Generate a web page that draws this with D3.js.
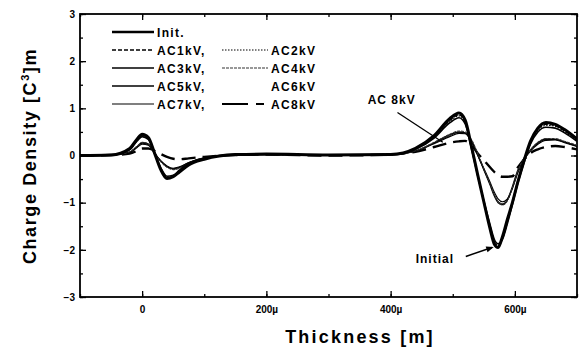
<!DOCTYPE html>
<html>
<head>
<meta charset="utf-8">
<script src="https://cdn.jsdelivr.net/npm/d3@7"></script>
<style>
  body { margin: 0; background: #fff; }
  text { font-family: "Liberation Sans", Arial, sans-serif; font-weight: bold; fill: #000; }
</style>
</head>
<body>
<script>
// thickness positions (µm) shared by every profile
var xs = [-100,-50,-20,-8,0,10,20,30,40,50,60,75,100,150,200,300,400,440,470,495,510,520,530,540,550,560,567,573,580,588,596,605,615,625,637,650,665,680,700];

var init = [0,0.01,0.15,0.35,0.45,0.38,0.05,-0.3,-0.49,-0.45,-0.35,-0.2,-0.08,0.02,0.03,0.01,0.02,0.15,0.42,0.78,0.9,0.75,0.2,-0.4,-0.98,-1.55,-1.88,-1.95,-1.72,-1.35,-1.0,-0.55,-0.1,0.3,0.58,0.7,0.66,0.55,0.35];
var ac1 = [0,0.01,0.14,0.33,0.43,0.36,0.05,-0.28,-0.47,-0.44,-0.33,-0.19,-0.07,0.02,0.03,0.01,0.02,0.14,0.4,0.74,0.86,0.72,0.18,-0.4,-0.96,-1.52,-1.84,-1.92,-1.74,-1.36,-0.98,-0.52,-0.1,0.28,0.55,0.66,0.63,0.52,0.33];
var ac2 = [0,0.01,0.13,0.32,0.42,0.35,0.05,-0.27,-0.46,-0.43,-0.32,-0.18,-0.07,0.02,0.02,0.01,0.02,0.14,0.39,0.72,0.84,0.7,0.17,-0.42,-0.98,-1.5,-1.82,-1.9,-1.76,-1.4,-1.0,-0.54,-0.12,0.26,0.53,0.64,0.62,0.5,0.32];
var ac3 = [0,0.01,0.12,0.31,0.4,0.34,0.05,-0.26,-0.44,-0.42,-0.31,-0.17,-0.06,0.02,0.02,0.01,0.02,0.13,0.37,0.69,0.8,0.67,0.15,-0.42,-0.96,-1.46,-1.78,-1.87,-1.78,-1.44,-1.04,-0.58,-0.14,0.24,0.5,0.6,0.58,0.48,0.3];
var ac4 = [0,0.01,0.08,0.2,0.28,0.25,0.06,-0.13,-0.25,-0.3,-0.27,-0.17,-0.06,0.01,0.02,0.01,0.02,0.1,0.28,0.45,0.52,0.5,0.34,0.05,-0.28,-0.6,-0.84,-0.98,-1.05,-0.96,-0.68,-0.32,-0.06,0.12,0.28,0.36,0.36,0.3,0.22];
var ac5 = [0,0.01,0.07,0.19,0.27,0.24,0.05,-0.12,-0.24,-0.29,-0.26,-0.16,-0.06,0.01,0.02,0.01,0.02,0.1,0.27,0.44,0.5,0.48,0.32,0.02,-0.3,-0.62,-0.86,-1.0,-1.04,-0.94,-0.66,-0.3,-0.05,0.12,0.27,0.35,0.34,0.29,0.2];
var ac6 = [0,0.01,0.07,0.18,0.26,0.23,0.05,-0.12,-0.23,-0.28,-0.25,-0.15,-0.05,0.01,0.02,0.01,0.02,0.09,0.26,0.42,0.49,0.47,0.3,0.0,-0.3,-0.6,-0.83,-0.97,-1.02,-0.95,-0.7,-0.34,-0.07,0.1,0.26,0.34,0.34,0.28,0.2];
var ac7 = [0,0.01,0.06,0.17,0.24,0.22,0.05,-0.11,-0.22,-0.27,-0.24,-0.15,-0.05,0.01,0.02,0.01,0.02,0.09,0.25,0.4,0.47,0.46,0.3,0.02,-0.27,-0.56,-0.78,-0.92,-0.98,-0.92,-0.7,-0.36,-0.09,0.09,0.24,0.32,0.33,0.27,0.19];
var ac8 = [0,0.01,0.04,0.1,0.15,0.15,0.1,0.03,-0.03,-0.07,-0.08,-0.06,-0.03,0.01,0.02,0.0,0.02,0.08,0.18,0.27,0.3,0.31,0.22,0.05,-0.1,-0.25,-0.35,-0.42,-0.45,-0.45,-0.44,-0.25,-0.08,0.05,0.13,0.18,0.2,0.18,0.13];

var xTicks = [0, 200, 400, 600];
var xTickLabels = ["0", "200\u00b5", "400\u00b5", "600\u00b5"];
var yTicks = [-3, -2, -1, 0, 1, 2, 3];

var series = [
  {name: "Init.",  vals: init, w: 3,   dash: null,      col: "#000"},
  {name: "AC1kV,", vals: ac1,  w: 1.3, dash: "4,2",     col: "#000"},
  {name: "AC2kV",  vals: ac2,  w: 1.1, dash: "1.5,1.5", col: "#000"},
  {name: "AC3kV,", vals: ac3,  w: 1.6, dash: null,      col: "#000"},
  {name: "AC4kV",  vals: ac4,  w: 1.1, dash: "3,1",     col: "#333"},
  {name: "AC5kV,", vals: ac5,  w: 1.3, dash: null,      col: "#000"},
  {name: "AC6kV",  vals: ac6,  w: 1,   dash: null,      col: "#111"},
  {name: "AC7kV,", vals: ac7,  w: 1.1, dash: null,      col: "#000"},
  {name: "AC8kV",  vals: ac8,  w: 2.4, dash: "14,7",    col: "#000"}
];

var W = 581, H = 349;
var m = {left: 80, top: 14, right: 4, bottom: 52};
var pw = W - m.left - m.right, ph = H - m.top - m.bottom;

var svg = d3.select("body").append("svg").attr("width", W).attr("height", H);
var g = svg.append("g").attr("transform", "translate(" + m.left + "," + m.top + ")");

var x = d3.scaleLinear().domain([-100, 700]).range([0, pw]);
var y = d3.scaleLinear().domain([-3, 3]).range([ph, 0]);

g.append("defs").append("clipPath").attr("id", "clip")
  .append("rect").attr("width", pw).attr("height", ph);

// axes with inward ticks on all four sides
var minorX = d3.range(-100, 701, 100), minorY = d3.range(-3, 3.01, 0.5);
function fmtX(d) { return xTickLabels[xTicks.indexOf(d)]; }

g.append("g").attr("transform", "translate(0," + ph + ")")
  .call(d3.axisBottom(x).tickValues(minorX).tickSize(-3).tickFormat(""));
g.append("g").attr("transform", "translate(0," + ph + ")")
  .call(d3.axisBottom(x).tickValues(xTicks).tickSize(-6).tickPadding(9).tickFormat(fmtX));
g.append("g").call(d3.axisTop(x).tickValues(minorX).tickSize(-3).tickFormat(""));
g.append("g").call(d3.axisTop(x).tickValues(xTicks).tickSize(-6).tickFormat(""));
g.append("g").call(d3.axisLeft(y).tickValues(minorY).tickSize(-3).tickFormat(""));
g.append("g").call(d3.axisLeft(y).tickValues(yTicks).tickSize(-6).tickPadding(5).tickFormat(d3.format("d")));
g.append("g").attr("transform", "translate(" + pw + ",0)")
  .call(d3.axisRight(y).tickValues(minorY).tickSize(-3).tickFormat(""));
g.append("g").attr("transform", "translate(" + pw + ",0)")
  .call(d3.axisRight(y).tickValues(yTicks).tickSize(-6).tickFormat(""));

g.selectAll(".domain").remove();
g.selectAll(".tick line").attr("stroke", "#000").attr("stroke-width", 1.3);
g.selectAll(".tick text").style("font-size", "10px").style("font-weight", "bold")
  .style("font-family", "'Liberation Sans', Arial, sans-serif").attr("fill", "#000");

g.append("rect").attr("width", pw).attr("height", ph)
  .attr("fill", "none").attr("stroke", "#000").attr("stroke-width", 1.8);

// profiles
var line = d3.line().curve(d3.curveMonotoneX)
  .x(function(d, i) { return x(xs[i]); })
  .y(function(d) { return y(d); });

g.append("g").attr("clip-path", "url(#clip)").selectAll("path")
  .data(series.slice().reverse()).enter().append("path")
  .attr("d", function(d) { return line(d.vals); })
  .attr("fill", "none")
  .attr("stroke", function(d) { return d.col; })
  .attr("stroke-width", function(d) { return d.w; })
  .attr("stroke-dasharray", function(d) { return d.dash; })
  .attr("stroke-linejoin", "round");

// legend
var legRows = [
  [series[0], null],
  [series[1], series[2]],
  [series[3], series[4]],
  [series[5], series[6]],
  [series[7], series[8]]
];
var leg = svg.append("g");
legRows.forEach(function(row, r) {
  var ly = 32 + r * 18;
  row.forEach(function(s, c) {
    if (!s) return;
    var lx = c === 0 ? 112 : 222;
    var len = c === 0 ? 42 : 46;
    if (s.name !== "AC6kV") {
      leg.append("line").attr("x1", lx).attr("x2", lx + len).attr("y1", ly).attr("y2", ly)
        .attr("stroke", s.col).attr("stroke-width", s.w === 3 ? 2.6 : Math.min(s.w, 2))
        .attr("stroke-dasharray", s.name === "AC8kV" ? "26,8,8" : s.dash);
    }
    leg.append("text").attr("x", lx + len + 3).attr("y", ly + 4.5)
      .style("font-size", "12px").style("letter-spacing", "1.3px").text(s.name);
  });
});

// annotations
svg.append("text").attr("x", m.left + x(363)).attr("y", m.top + y(1.1))
  .style("font-size", "12px").style("letter-spacing", "1px").text("AC 8kV");
svg.append("line")
  .attr("x1", m.left + x(411)).attr("y1", m.top + y(0.91))
  .attr("x2", m.left + x(484)).attr("y2", m.top + y(0.28))
  .attr("stroke", "#000").attr("stroke-width", 1.3);

svg.append("text").attr("x", m.left + x(502)).attr("y", m.top + y(-2.27))
  .attr("text-anchor", "end").style("font-size", "12px").style("letter-spacing", "1px").text("Initial");
svg.append("line")
  .attr("x1", m.left + x(521)).attr("y1", m.top + y(-2.14))
  .attr("x2", m.left + x(563)).attr("y2", m.top + y(-1.95))
  .attr("stroke", "#000").attr("stroke-width", 1.5);
svg.append("path")
  .attr("d", d3.line()([
    [m.left + x(566), m.top + y(-1.94)],
    [m.left + x(553), m.top + y(-1.93)],
    [m.left + x(556), m.top + y(-2.05)]
  ]) + "Z").attr("fill", "#000");

// axis titles
svg.append("text").attr("x", 360).attr("y", 343).attr("text-anchor", "middle")
  .style("font-size", "18px").style("letter-spacing", "2.2px").text("Thickness [m]");

var yt = svg.append("text").attr("transform", "translate(36,156) rotate(-90)")
  .attr("text-anchor", "middle").style("font-size", "18px").style("letter-spacing", "1.6px");
yt.append("tspan").text("Charge Density [C");
yt.append("tspan").attr("dy", -7).style("font-size", "11px").text("3");
yt.append("tspan").attr("dy", 7).text("]m");
</script>
</body>
</html>
